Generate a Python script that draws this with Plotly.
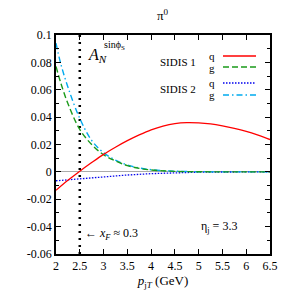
import plotly.graph_objects as go

# ---- data ----
x_q1 = [2.0, 2.25, 2.5, 2.75, 3.0, 3.25, 3.5, 3.75, 4.0, 4.25, 4.5, 4.75, 5.0, 5.25, 5.5, 5.75, 6.0, 6.25, 6.5]
sidis1_q = [-0.0135, -0.0062, 0.0005, 0.0068, 0.0128, 0.0180, 0.0228, 0.0270, 0.0307, 0.0335, 0.0353, 0.0360, 0.0358, 0.0350, 0.0336, 0.0318, 0.0296, 0.0268, 0.0236]

x_g = [2.0, 2.1, 2.25, 2.5, 2.75, 3.0, 3.25, 3.5, 3.75, 4.0, 4.5, 5.0, 5.5, 6.0, 6.5]
sidis1_g = [0.077, 0.065, 0.050, 0.031, 0.020, 0.0125, 0.0080, 0.0046, 0.0026, 0.0014, 0.0004, 0.0001, 0.0, 0.0, 0.0]
sidis2_g = [0.094, 0.079, 0.062, 0.039, 0.023, 0.014, 0.0086, 0.0050, 0.0029, 0.0016, 0.0005, 0.0001, 0.0, 0.0, 0.0]

x_q2 = [2.0, 2.5, 3.0, 3.5, 4.0, 4.5, 5.0, 5.5, 6.0, 6.5]
sidis2_q = [-0.0065, -0.0050, -0.0036, -0.0023, -0.0013, -0.0006, -0.0002, -0.0001, 0.0, 0.0]

xf_line_x = [2.5, 2.5]
xf_line_y = [-0.06, 0.1]

x_ticks = [2, 2.5, 3, 3.5, 4, 4.5, 5, 5.5, 6, 6.5]
x_ticklabels = ["2", "2.5", "3", "3.5", "4", "4.5", "5", "5.5", "6", "6.5"]
y_ticks = [-0.06, -0.04, -0.02, 0, 0.02, 0.04, 0.06, 0.08, 0.1]
y_ticklabels = ["-0.06", "-0.04", "-0.02", "0", "0.02", "0.04", "0.06", "0.08", "0.1"]

RED = "#ff0000"
GREEN = "#1a9a1a"
BLUE = "#0000ee"
CYAN = "#00aaee"
FONT = "Liberation Serif"

fig = go.Figure()
fig.add_trace(go.Scatter(x=xf_line_x, y=xf_line_y, mode="lines",
                         line=dict(color="black", width=2.5, dash="2px,5px"), hoverinfo="skip"))
fig.add_trace(go.Scatter(x=x_q2, y=sidis2_q, mode="lines", line=dict(color=BLUE, width=1.3, dash="1.5px,1.5px")))
fig.add_trace(go.Scatter(x=x_g, y=sidis2_g, mode="lines", line=dict(color=CYAN, width=1.4, dash="6px,3px,1.5px,3px"), line_shape="spline"))
fig.add_trace(go.Scatter(x=x_g, y=sidis1_g, mode="lines", line=dict(color=GREEN, width=1.4, dash="6px,3px"), line_shape="spline"))
fig.add_trace(go.Scatter(x=x_q1, y=sidis1_q, mode="lines", line=dict(color=RED, width=1.3), line_shape="spline"))

axis_common = dict(showline=True, linecolor="black", linewidth=1.5, mirror="ticks",
                   ticks="inside", ticklen=5, tickcolor="black", showgrid=False, automargin=False,
                   tickfont=dict(family=FONT, size=12, color="black"))

fig.update_xaxes(range=[2, 6.5], tickvals=x_ticks, ticktext=x_ticklabels, zeroline=False,
                 title=dict(text="<i>p</i><sub>j<i>T</i></sub> (GeV)", font=dict(family=FONT, size=13, color="black"), standoff=2),
                 **axis_common)
fig.update_yaxes(range=[-0.06, 0.1], tickvals=y_ticks, ticktext=y_ticklabels,
                 zeroline=True, zerolinecolor="#aaaaaa", zerolinewidth=1,
                 minor=dict(dtick=0.01, ticks="inside", ticklen=3, tickcolor="black"),
                 **axis_common)

L, R, T, B = 56, 270, 35, 254
ann = []
def add_text(x, y, text, size=12, xanchor="left", yanchor="middle"):
    ann.append(dict(x=x, y=y, xref="paper", yref="paper", text=text, showarrow=False,
                    font=dict(family=FONT, size=size, color="black"), xanchor=xanchor, yanchor=yanchor))

def px(xp):
    return (xp - L) / float(R - L)
def py(yp):
    return (B - yp) / float(B - T)

add_text(px(163), py(15), "π<sup>0</sup>", size=13, xanchor="center")
add_text(px(86), py(55), "<i>A</i><sub><i>N</i></sub>", size=16)
add_text(px(102), py(45), "sinϕ<sub>S</sub>", size=10)
add_text(px(198), py(62), "SIDIS 1", size=11, xanchor="right")
add_text(px(198), py(89), "SIDIS 2", size=11, xanchor="right")
add_text(px(212), py(56), "q", size=11, xanchor="center")
add_text(px(212), py(68), "g", size=11, xanchor="center")
add_text(px(212), py(83), "q", size=11, xanchor="center")
add_text(px(212), py(95), "g", size=11, xanchor="center")
add_text(px(83), py(234), "← <i>x</i><sub><i>F</i></sub> ≈ 0.3", size=12)
add_text(px(199), py(227), "η<sub>j</sub> = 3.3", size=12)

shapes = []
legend_lines = [(56, RED, "solid"), (67, GREEN, "6px,3px"), (83, BLUE, "1.5px,1.5px"), (95, CYAN, "6px,3px,1.5px,3px")]
for yy, col, d in legend_lines:
    shapes.append(dict(type="line", xref="paper", yref="paper", x0=px(223), x1=px(256), y0=py(yy), y1=py(yy),
                       line=dict(color=col, width=1.4, dash=d)))

fig.update_layout(width=291, height=290, margin=dict(l=L, r=291 - R, t=T, b=290 - B),
                  plot_bgcolor="white", paper_bgcolor="white", showlegend=False,
                  annotations=ann, shapes=shapes)

fig.write_html("out.html", config={"displayModeBar": False},
               post_script="document.body.style.margin='0px';document.body.style.overflow='hidden';")
